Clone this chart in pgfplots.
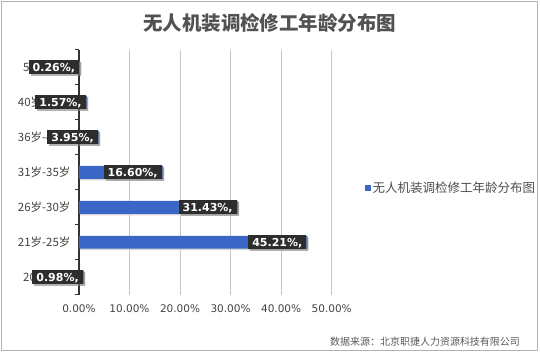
\documentclass[border=0pt]{standalone}
\usepackage{pgfplots}
\pgfplotsset{compat=1.18}
\usepackage{fontspec}
\setmainfont{DejaVu Sans}
\newfontfamily\cjk{Noto Sans CJK SC}
\usetikzlibrary{shadows}
\definecolor{barblue}{RGB}{58,103,198}
\definecolor{lblbox}{RGB}{45,45,45}
\definecolor{txtgrey}{RGB}{68,68,68}
\begin{document}
\begin{tikzpicture}
\draw[black!30, line width=1pt] (1.5pt,1.5pt) rectangle (538.5pt,350.5pt);
\path (0,0) rectangle (540pt,352pt);
\node[text=black!68] at (270pt,329pt) {\cjk\bfseries\fontsize{19.5}{22}\selectfont 无人机装调检修工年龄分布图};
\node[anchor=east, text=black!65, font=\cjk\fontsize{10}{12}\selectfont] at (524pt,10pt) {数据来源：北京职捷人力资源科技有限公司};
\begin{axis}[
 at={(79pt,57pt)}, anchor=south west, scale only axis, width=253pt, height=245pt,
 set layers=standard, clip=false,
 xmin=0, xmax=50, ymin=-0.5, ymax=6.5,
 xbar, bar width=13pt,
 axis lines*=left,
 x axis line style={draw=none},
 y axis line style={draw=black!80, line width=1.3pt},
 xtick={0,10,20,30,40,50},
 xticklabels={0.00\%,10.00\%,20.00\%,30.00\%,40.00\%,50.00\%},
 ytick={0,1,2,3,4,5,6},
 yticklabels={20岁以下,21岁-25岁,26岁-30岁,31岁-35岁,36岁-40岁,40岁-50岁,50岁以上},
 major tick length=0pt,
 xmajorgrids, grid style={draw=black!22, line width=0.8pt},
 extra y ticks={-0.5,0.5,1.5,2.5,3.5,4.5,5.5,6.5},
 extra y tick labels={},
 extra y tick style={major tick length=4pt, tick align=outside, tick style={draw=black!80, line width=1pt}, grid=none},
 xticklabel style={font=\fontsize{10.5}{12}\selectfont, text=txtgrey, yshift=-6pt},
 yticklabel style={font=\cjk\fontsize{11.5}{13}\selectfont, text=black!75, xshift=-5pt},
 legend style={at={(1.118,0.437)}, anchor=west, draw=none, fill=none, font=\cjk\fontsize{12.5}{14}\selectfont, text=black!70},
 legend image code/.code={\fill[barblue] (0pt,-3pt) rectangle (6pt,3pt);},
]
\addplot[fill=black!16, draw=none, bar shift=-1.5pt, xshift=1.5pt, forget plot] coordinates {(0.98,0) (45.21,1) (31.43,2) (16.60,3) (3.95,4) (1.57,5) (0.26,6)};
\addplot[fill=barblue, draw=none, bar shift=0pt, point meta=x,
 nodes near coords={\pgfmathprintnumber[fixed,fixed zerofill,precision=2,assume math mode=true]{\pgfplotspointmeta}\%,},
 nodes near coords style={anchor=east, xshift=-1pt, fill=lblbox, text=white, font=\bfseries\fontsize{11}{13}\selectfont, inner xsep=4pt, inner ysep=2.5pt, text height=8.5pt, text depth=0.5pt, drop shadow={shadow xshift=2pt, shadow yshift=-2pt, fill=black!50, opacity=0.6}}
] coordinates {(0.98,0) (45.21,1) (31.43,2) (16.60,3) (3.95,4) (1.57,5) (0.26,6)};
\addlegendentry{无人机装调检修工年龄分布图}
\end{axis}
\end{tikzpicture}
\end{document}
